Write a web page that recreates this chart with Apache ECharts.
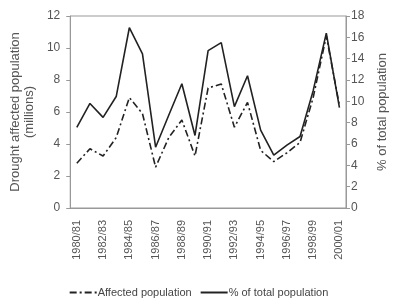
<!DOCTYPE html>
<html>
<head>
<meta charset="utf-8">
<script src="https://cdn.jsdelivr.net/npm/echarts@6/dist/echarts.min.js"></script>
<style>
  html, body { margin: 0; padding: 0; background: #fff; }
  #chart { width: 397px; height: 304px; }
</style>
</head>
<body>
<div id="chart"></div>
<script>
const years = [
  "1980/81", "1981/82", "1982/83", "1983/84", "1984/85", "1985/86", "1986/87",
  "1987/88", "1988/89", "1989/90", "1990/91", "1991/92", "1992/93", "1993/94",
  "1994/95", "1995/96", "1996/97", "1997/98", "1998/99", "1999/00", "2000/01"
];
// millions, left axis
const affected = [2.8, 3.7, 3.25, 4.4, 6.9, 5.9, 2.55, 4.4, 5.5, 3.25, 7.5,
  7.75, 5.05, 6.6, 3.6, 2.9, 3.45, 4.1, 6.9, 10.75, 6.4];
// percent, right axis
const percent = [7.55, 9.8, 8.5, 10.45, 16.9, 14.45, 5.7, 8.7, 11.65, 6.8, 14.75,
  15.5, 9.5, 12.4, 7.3, 4.95, 5.9, 6.7, 11.0, 16.4, 9.4];

const chart = echarts.init(document.getElementById("chart"));
const txt = "#555";
const axisCol = "#999";

chart.setOption({
  animation: false,
  textStyle: { fontFamily: "Liberation Sans, Arial, sans-serif" },
  grid: {
    left: 63, right: 37, top: 16, bottom: 96,
    show: true, borderColor: axisCol, borderWidth: 1
  },
  legend: {
    bottom: 1,
    left: "center",
    itemWidth: 27,
    itemHeight: 6,
    itemGap: 8,
    itemStyle: { opacity: 0 },
    textStyle: { color: "#444", fontSize: 11, padding: [0, 0, 0, -4] },
    data: ["Affected population", "% of total population"]
  },
  xAxis: {
    type: "category",
    data: years,
    boundaryGap: true,
    axisLine: { lineStyle: { color: axisCol } },
    axisTick: { interval: 0, length: 4, lineStyle: { color: axisCol } },
    axisLabel: { interval: 1, rotate: 90, color: txt, fontSize: 11, margin: 12 }
  },
  yAxis: [
    {
      type: "value",
      min: 0, max: 12, interval: 2,
      name: "Drought affected population\n(millions)",
      nameLocation: "middle",
      nameGap: 28,
      nameTextStyle: { color: txt, fontSize: 13, lineHeight: 14 },
      axisLine: { show: true, lineStyle: { color: axisCol } },
      axisTick: { show: true, length: 4, lineStyle: { color: axisCol } },
      axisLabel: { color: txt, fontSize: 12, margin: 10 },
      splitLine: { show: false }
    },
    {
      type: "value",
      min: 0, max: 18, interval: 2,
      name: "% of total population",
      nameLocation: "middle",
      nameGap: 30,
      nameRotate: 90,
      nameTextStyle: { color: txt, fontSize: 13 },
      axisLine: { show: true, lineStyle: { color: axisCol } },
      axisTick: { show: true, length: 4, lineStyle: { color: axisCol } },
      axisLabel: { color: txt, fontSize: 12, margin: 5 },
      splitLine: { show: false }
    }
  ],
  series: [
    {
      name: "Affected population",
      type: "line",
      yAxisIndex: 0,
      data: affected,
      symbol: "none",
      color: "#222",
      lineStyle: { color: "#222", width: 1.6, type: [7, 3, 2, 3] }
    },
    {
      name: "% of total population",
      type: "line",
      yAxisIndex: 1,
      data: percent,
      symbol: "none",
      color: "#222",
      lineStyle: { color: "#222", width: 1.6 }
    }
  ]
});
</script>
</body>
</html>
